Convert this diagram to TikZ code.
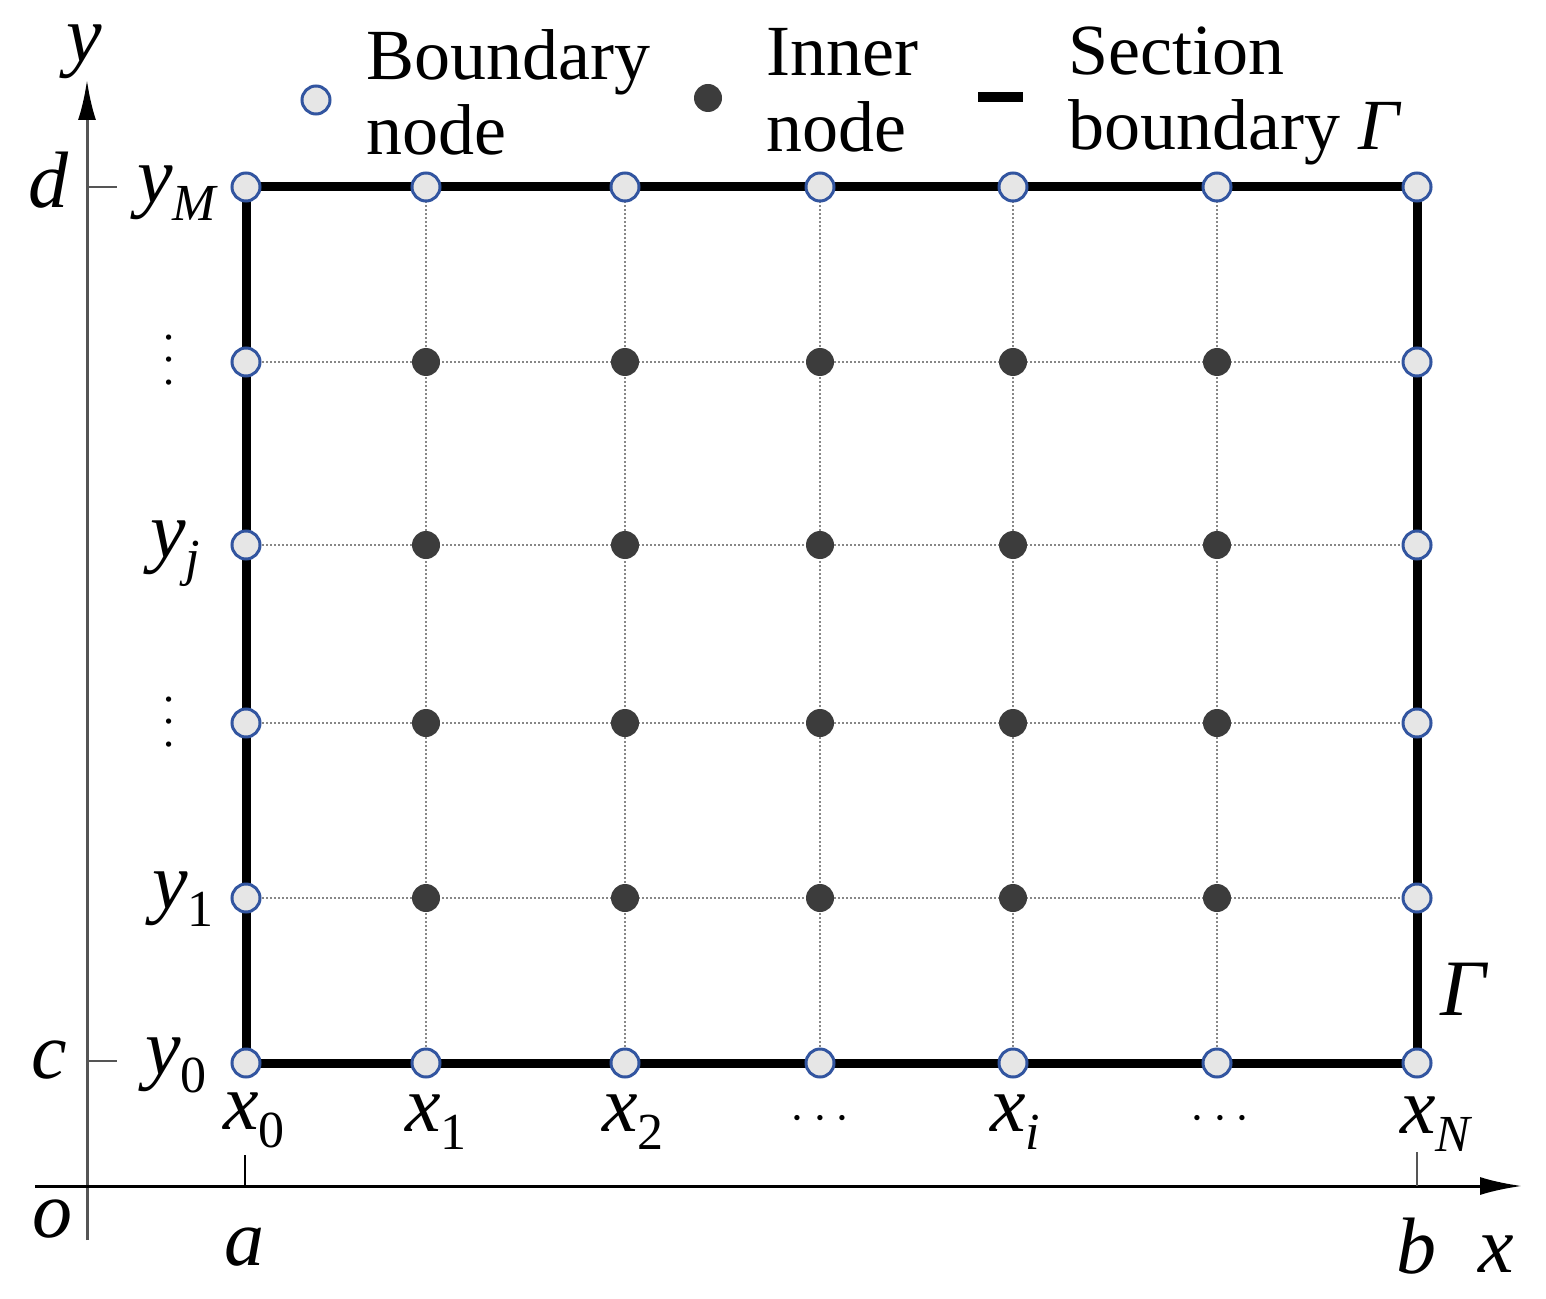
\documentclass[tikz,border=0pt]{standalone}
\usepackage{fontspec}
\setmainfont{LiberationSerif}[Extension=.ttf, UprightFont=*-Regular, ItalicFont=*-Italic, BoldFont=*-Bold, BoldItalicFont=*-BoldItalic]
\usepackage{graphicx}
\usetikzlibrary{arrows.meta}
\definecolor{bblue}{RGB}{50,85,160}
\definecolor{bfill}{RGB}{230,230,230}
\definecolor{idark}{RGB}{60,60,60}
\definecolor{gridgray}{RGB}{135,135,135}
\definecolor{axisgray}{RGB}{85,85,85}
\newcommand\sbs[2]{\textit{#1}\raisebox{-9pt}{\fontsize{26}{26}\selectfont #2}}
\tikzset{
  bnode/.style={circle, draw=bblue, fill=bfill, line width=1.5pt, minimum size=14pt, inner sep=0pt},
  inode/.style={circle, fill=idark, minimum size=14pt, inner sep=0pt},
  gridline/.style={draw=gridgray, line width=0.8pt, dash pattern=on 1.2pt off 0.8pt},
  bound/.style={draw=black, line width=4.5pt},
  axisline/.style={line width=1.5pt},
  ticks/.style={line width=1.2pt, draw=axisgray},
  mlab/.style={font=\fontsize{40}{40}\selectfont\itshape, inner sep=0pt, anchor=base west},
  leg/.style={font=\fontsize{36}{36}\selectfont, inner sep=0pt, anchor=base west},
  dotslab/.style={font=\fontsize{27}{27}\selectfont, inner sep=0pt, anchor=base}
}
\begin{document}
\begin{tikzpicture}[x=0.5pt, y=-0.5pt]
\useasboundingbox (0,0) rectangle (1546,1299);
% grid coordinates
\foreach \x [count=\i from 0] in {246,426,625,820,1013,1217,1417} {
  \foreach \y [count=\j from 0] in {1063,898,723,545,362,187} {
    \coordinate (p\i\j) at (\x,\y);
  }
}
% axes
\coordinate (ybot) at (87,1240);
\coordinate (ytop) at (87,80);
\coordinate (xleft) at (35,1186);
\coordinate (xright) at (1522,1186);
\draw[axisline, draw=axisgray, -{Latex[length=20pt,width=9pt,color=black]}] (ybot) -- (ytop);
\draw[axisline, -{Latex[length=21pt,width=9pt]}] (xleft) -- (xright);
% ticks
\coordinate (td0) at (87,187);  \coordinate (td1) at (117,187);
\coordinate (tc0) at (87,1061); \coordinate (tc1) at (117,1061);
\coordinate (ta0) at (245,1186); \coordinate (ta1) at (245,1155);
\coordinate (tb0) at (1417,1186); \coordinate (tb1) at (1417,1152);
\draw[ticks] (td0) -- (td1);
\draw[ticks] (tc0) -- (tc1);
\draw[ticks, draw=black] (ta0) -- (ta1);
\draw[ticks] (tb0) -- (tb1);
% grid lines
\foreach \i in {1,...,5} { \draw[gridline] (p\i0) -- (p\i5); }
\foreach \j in {1,...,4} { \draw[gridline] (p0\j) -- (p6\j); }
% boundary
\draw[bound] (p00) rectangle (p65);
% boundary nodes
\foreach \i in {0,...,6} {
  \node[bnode] (b\i0) at (p\i0) {};
  \node[bnode] (b\i5) at (p\i5) {};
}
\foreach \j in {1,...,4} {
  \node[bnode] (b0\j) at (p0\j) {};
  \node[bnode] (b6\j) at (p6\j) {};
}
% inner nodes
\foreach \i in {1,...,5} {
  \foreach \j in {1,...,4} {
    \node[inode] (n\i\j) at (p\i\j) {};
  }
}
% axis labels
\node[mlab] (ly) at (66,62) {y};
\node[mlab] (ld) at (28,208) {d};
\node[mlab] (lc) at (31,1078) {c};
\node[mlab] (lo) at (32,1237) {o};
\node[mlab] (la) at (224,1265) {a};
\node[mlab] (lb) at (1396,1273) {b};
\node[mlab] (lx) at (1478,1272) {x};
% row labels
\node[mlab] (lyM) at (137,203) {\sbs{y}{\textit{M}}};
\node[mlab] (lyj) at (150,557) {\sbs{y}{\textit{j}}};
\node[mlab] (ly1) at (152,908) {\sbs{y}{\upshape 1}};
\node[mlab] (ly0) at (145,1074) {\sbs{y}{\upshape 0}};
\node[font=\fontsize{24}{24}\selectfont, inner sep=0pt, rotate=90] (vd1) at (170,360) {$\cdots$};
\node[font=\fontsize{24}{24}\selectfont, inner sep=0pt, rotate=90] (vd2) at (170,722) {$\cdots$};
% column labels
\node[mlab] (lx0) at (223,1129) {\sbs{x}{\upshape 0}};
\node[mlab] (lx1) at (405,1131) {\sbs{x}{\upshape 1}};
\node[mlab] (lx2) at (602,1131) {\sbs{x}{\upshape 2}};
\node[dotslab] (hd1) at (820,1130) {$\cdots$};
\node[mlab] (lxi) at (990,1131) {\sbs{x}{\textit{i}}};
\node[dotslab] (hd2) at (1220,1130) {$\cdots$};
\node[mlab] (lxN) at (1400,1133) {\sbs{x}{\textit{N}}};
% Gamma
\node[mlab] (lG) at (1440,1015) {Γ};
% legend
\node[bnode] (legb) at (316,100) {};
\node[leg] (legbt1) at (366,80) {Boundary};
\node[leg] (legbt2) at (366,155) {node};
\node[inode] (legi) at (708,98) {};
\node[leg] (legit1) at (766,76) {Inner};
\node[leg] (legit2) at (766,152) {node};
\coordinate (lgs0) at (978,97);
\coordinate (lgs1) at (1023,97);
\draw[line width=5pt] (lgs0) -- (lgs1);
\node[leg] (legst1) at (1068,75) {Section};
\node[leg] (legst2) at (1068,150) {boundary \textit{Γ}};
\end{tikzpicture}
\end{document}
